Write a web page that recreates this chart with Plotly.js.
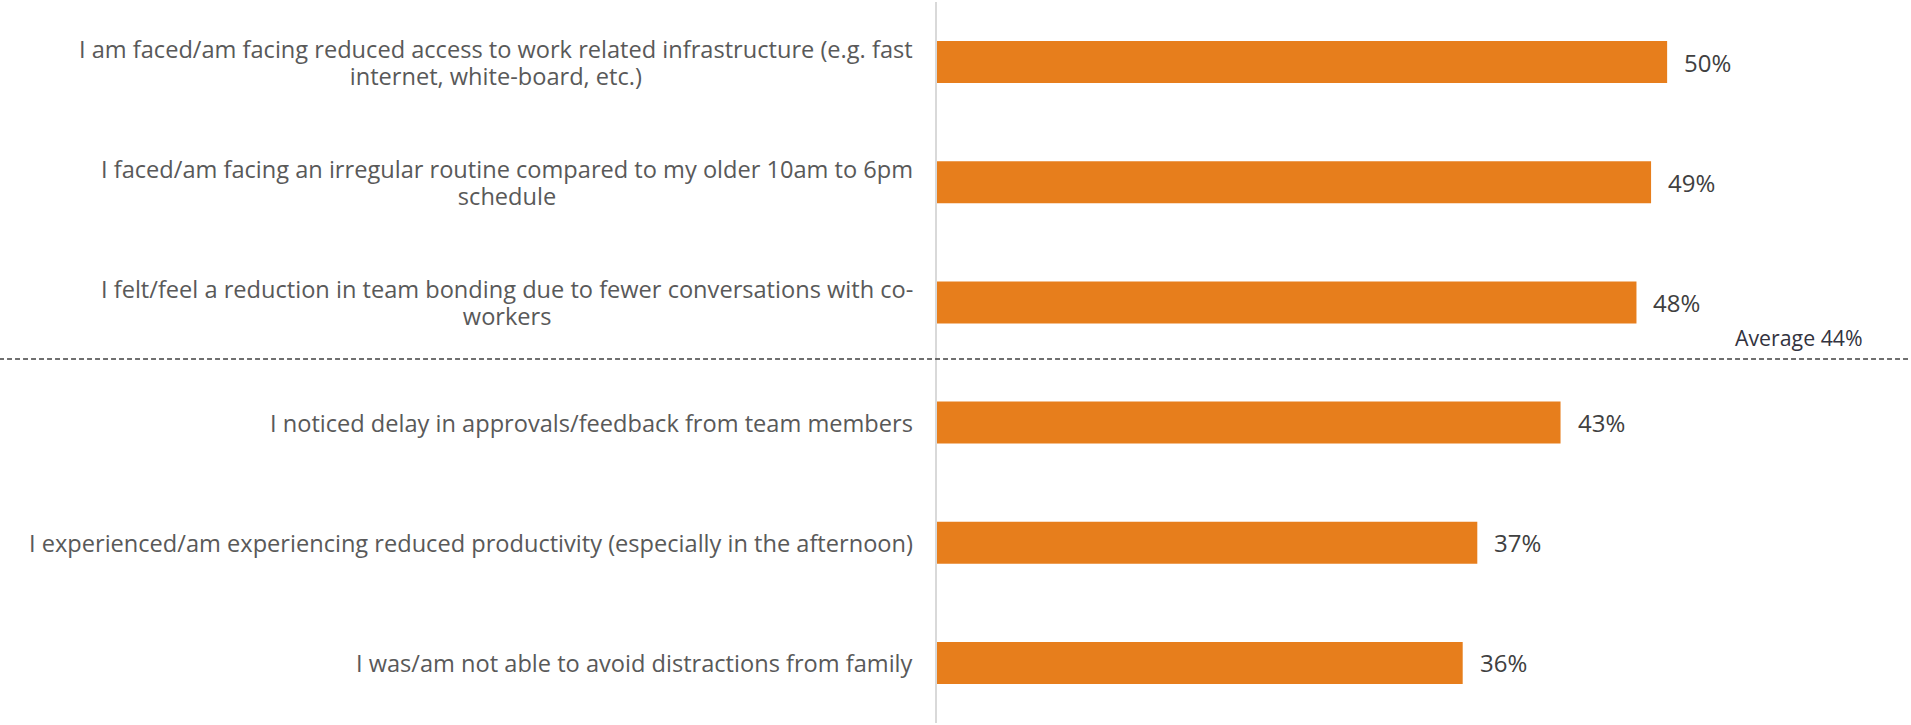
<!DOCTYPE html>
<html>
<head>
<meta charset="utf-8">
<script src="https://cdn.plot.ly/plotly-3.0.1.min.js"></script>
<style>
  html, body { margin: 0; padding: 0; background: #ffffff; }
  #chart { width: 1911px; height: 725px; }
</style>
</head>
<body>
<div id="chart"></div>
<script>
const categories = [
  "I am faced/am facing reduced access to work related infrastructure (e.g. fast<br>internet, white-board, etc.)",
  "I faced/am facing an irregular routine compared to my older 10am to 6pm<br>schedule",
  "I felt/feel a reduction in team bonding due to fewer conversations with co-<br>workers",
  "I noticed delay in approvals/feedback from team members",
  "I experienced/am experiencing reduced productivity (especially in the afternoon)",
  "I was/am not able to avoid distractions from family"
];
const values = [50, 48.9, 47.9, 42.7, 37, 36];
const valueLabels = ["50%", "49%", "48%", "43%", "37%", "36%"];
const averageLabel = "Average 44%";

const FONT = '"Open Sans", sans-serif';

const trace = {
  type: 'bar',
  orientation: 'h',
  x: values,
  y: categories,
  marker: { color: '#E77E1C' },
  hoverinfo: 'skip'
};

function bigLines(t) {
  return t.split('<br>').map(s => '<span style="font-size:23.6px">' + s + '</span>').join('<br>');
}

const annotations = [];
categories.forEach((c, i) => {
  annotations.push({
    xref: 'paper', yref: 'y', x: 0, y: c,
    xanchor: 'right', yanchor: 'middle', xshift: -22,
    align: 'center', showarrow: false, text: bigLines(c),
    font: { family: FONT, size: 21, color: '#595959' }
  });
  annotations.push({
    xref: 'x', yref: 'y', x: values[i], y: c,
    xanchor: 'left', yanchor: 'middle', xshift: 15,
    showarrow: false, text: valueLabels[i],
    font: { family: FONT, size: 24, color: '#404040' }
  });
});
annotations.push({
  xref: 'paper', yref: 'paper', x: 1, y: 0.535,
  xanchor: 'right', yanchor: 'middle', xshift: -46,
  showarrow: false, text: averageLabel,
  font: { family: FONT, size: 21.3, color: '#333340' }
});

const layout = {
  width: 1911, height: 725,
  margin: { l: 937, r: 0, t: 2, b: 2 },
  paper_bgcolor: '#ffffff', plot_bgcolor: '#ffffff',
  showlegend: false,
  bargap: 0.65,
  xaxis: { range: [0, 66.7], visible: false, fixedrange: true },
  yaxis: {
    type: 'category', autorange: 'reversed',
    showticklabels: false, ticks: '', showgrid: false, zeroline: false,
    showline: true, linecolor: '#d9d9d9', linewidth: 2
  },
  shapes: [{
    type: 'line', xref: 'paper', yref: 'paper',
    x0: -0.963, x1: 1, y0: 0.505, y1: 0.505,
    line: { color: '#404040', width: 1.5, dash: '5px,3px' }
  }],
  annotations: annotations
};

Plotly.newPlot('chart', [trace], layout, { displayModeBar: false, staticPlot: true });
</script>
</body>
</html>
